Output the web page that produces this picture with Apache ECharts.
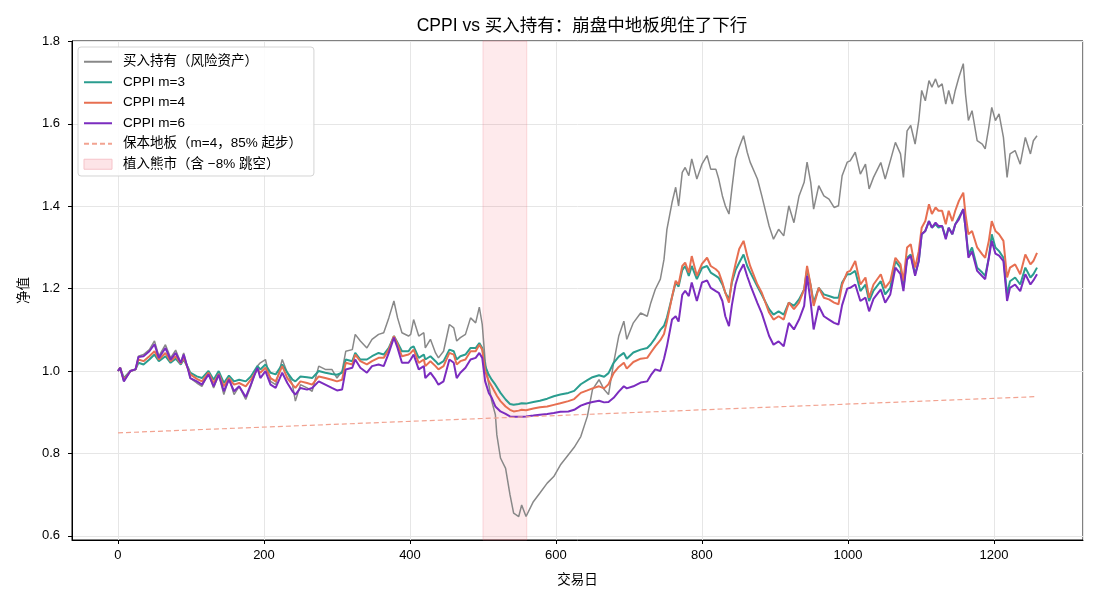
<!DOCTYPE html>
<html>
<head>
<meta charset="utf-8">
<title>CPPI vs 买入持有</title>
<script src="https://cdn.jsdelivr.net/npm/echarts@6/dist/echarts.min.js"></script>
<style>
  html, body { margin: 0; padding: 0; background: #fff; }
  #chart { width: 1100px; height: 605px; }
</style>
</head>
<body>
<div id="chart"></div>
<script>
const days = [
  0, 3, 8, 17, 24, 28, 35, 43, 50, 56, 65, 72, 79, 86, 90, 96, 99, 108, 115, 124, 131, 138, 145, 152, 159, 166, 175, 182, 191,
  195, 202, 209, 216, 225, 232, 239, 243, 250, 259, 266, 275, 284, 293, 300, 307, 312, 321, 325, 332, 341, 348, 357, 364, 371, 378, 380, 383, 389, 398,
  401, 405, 412, 419, 421, 428, 435, 439, 446, 454, 460, 464, 469, 476, 483, 490, 495, 499, 503, 508, 512, 517, 519, 524, 531, 537, 542, 549, 553, 559, 569, 578, 588, 597, 606, 617,
  625,
  634, 643, 650, 659, 666, 672, 679, 686, 693, 697, 706, 716, 725, 730, 736, 743,
  748, 752, 759, 764, 768, 773, 777, 782, 786, 793, 800, 807, 812, 819, 823, 828, 832, 837, 841, 846, 851, 857, 862, 866, 876, 882, 892, 898, 905, 912, 919, 926, 933, 940, 944, 949, 953, 960, 967, 974, 981, 987, 992, 999,
  1003, 1010, 1017, 1024, 1029, 1035, 1045, 1051, 1058, 1065, 1072, 1076, 1081, 1086, 1092, 1097, 1101, 1106, 1111, 1115, 1120, 1124, 1129, 1134, 1138, 1143, 1147, 1152, 1158, 1161, 1165, 1170, 1177, 1184, 1188, 1193, 1197, 1202, 1207, 1213, 1218, 1222, 1229, 1236, 1243, 1250, 1254, 1259
];

const buyHold = [
  1.0, 1.008, 0.975, 1.0, 1.004, 1.036, 1.04, 1.052, 1.073, 1.036, 1.064, 1.032, 1.051, 1.02, 1.044, 1.004, 0.983, 0.971, 0.963, 0.996, 0.959, 0.991, 0.943, 0.983, 0.943, 0.963, 0.931, 0.963, 1.012,
  1.02, 1.028, 0.975, 0.967, 1.028, 0.996, 0.967, 0.927, 0.967, 0.959, 0.951, 1.012, 1.004, 1.004, 0.983, 1.0, 1.048, 1.052, 1.089, 1.073, 1.056, 1.077, 1.089, 1.093, 1.129, 1.17, 1.174, 1.129, 1.093, 1.085,
  1.089, 1.125, 1.085, 1.093, 1.056, 1.077, 1.044, 1.032, 1.048, 1.113, 1.105, 1.073, 1.081, 1.089, 1.129, 1.117, 1.155, 1.113, 1.024, 0.967, 0.927, 0.894, 0.845, 0.789, 0.764, 0.7, 0.655, 0.647, 0.675, 0.647, 0.683, 0.704, 0.728, 0.744, 0.772, 0.797,
  0.815,
  0.841, 0.89, 0.955, 0.979, 0.955, 0.943, 1.02, 1.085, 1.121, 1.077, 1.117, 1.141, 1.133, 1.166, 1.198, 1.223,
  1.271, 1.344, 1.409, 1.446, 1.401, 1.482, 1.494, 1.474, 1.515, 1.466, 1.502, 1.523, 1.49, 1.49, 1.466, 1.425, 1.401, 1.381, 1.442, 1.515, 1.543, 1.571, 1.531, 1.507, 1.466, 1.425, 1.352, 1.32, 1.344, 1.328, 1.401, 1.36, 1.425, 1.458, 1.507, 1.458, 1.393, 1.45, 1.425, 1.417, 1.397, 1.401, 1.474, 1.507,
  1.51, 1.531, 1.478, 1.502, 1.442, 1.47, 1.506, 1.466, 1.51, 1.555, 1.527, 1.47, 1.583, 1.596, 1.551, 1.608, 1.681, 1.656, 1.705, 1.689, 1.709, 1.689, 1.697, 1.648, 1.681, 1.648, 1.681, 1.713, 1.746, 1.673, 1.608, 1.632, 1.559, 1.551, 1.539, 1.592, 1.64, 1.608, 1.624, 1.567, 1.47, 1.527, 1.535, 1.502, 1.567, 1.527, 1.559, 1.571
];

const cppiM3 = [
  1.0, 1.008, 0.983, 1.0, 1.004, 1.02, 1.016, 1.028, 1.04, 1.024, 1.036, 1.02, 1.03, 1.016, 1.028, 1.008, 0.996, 0.987, 0.983, 1.0, 0.979, 1.0, 0.971, 0.989, 0.975, 0.979, 0.975, 0.987, 1.012,
  1.004, 1.016, 0.996, 0.992, 1.016, 0.996, 0.979, 0.975, 0.987, 0.985, 0.983, 1.0, 0.996, 0.993, 0.991, 0.996, 1.028, 1.024, 1.044, 1.028, 1.028, 1.036, 1.044, 1.04, 1.056, 1.085, 1.082, 1.069, 1.048, 1.048,
  1.056, 1.06, 1.032, 1.04, 1.028, 1.036, 1.024, 1.016, 1.024, 1.052, 1.048, 1.028, 1.036, 1.04, 1.056, 1.056, 1.068, 1.056, 1.012, 0.991, 0.979, 0.967, 0.963, 0.947, 0.931, 0.92, 0.918, 0.92, 0.922, 0.921, 0.925, 0.928, 0.933, 0.939, 0.943, 0.947,
  0.952,
  0.968, 0.978, 0.985, 0.99, 0.986, 0.995, 1.02, 1.035, 1.044, 1.03, 1.045, 1.052, 1.056, 1.065, 1.08, 1.1,
  1.11, 1.13, 1.18, 1.215, 1.205, 1.245, 1.255, 1.231, 1.255, 1.223, 1.25, 1.255, 1.239, 1.231, 1.226, 1.21, 1.19, 1.174, 1.215, 1.245, 1.263, 1.283, 1.255, 1.24, 1.205, 1.185, 1.15, 1.137, 1.145, 1.137, 1.166, 1.158, 1.174, 1.198, 1.247, 1.207, 1.166, 1.202, 1.186, 1.182, 1.178, 1.178, 1.215, 1.235,
  1.235, 1.243, 1.194, 1.21, 1.17, 1.195, 1.218, 1.186, 1.202, 1.267, 1.251, 1.202, 1.275, 1.283, 1.235, 1.267, 1.332, 1.34, 1.364, 1.348, 1.356, 1.348, 1.352, 1.324, 1.348, 1.332, 1.356, 1.373, 1.393, 1.348, 1.283, 1.3, 1.251, 1.239, 1.231, 1.275, 1.332, 1.3, 1.291, 1.275, 1.186, 1.218, 1.227, 1.21, 1.251, 1.227, 1.235, 1.251
];

const cppiM4 = [
  1.0, 1.008, 0.979, 1.0, 1.004, 1.028, 1.024, 1.036, 1.048, 1.028, 1.044, 1.024, 1.036, 1.018, 1.032, 1.005, 0.992, 0.981, 0.975, 0.996, 0.971, 0.993, 0.963, 0.983, 0.967, 0.971, 0.963, 0.979, 1.004,
  0.996, 1.008, 0.983, 0.975, 1.012, 0.983, 0.967, 0.959, 0.975, 0.971, 0.967, 0.987, 0.983, 0.979, 0.975, 0.979, 1.02, 1.016, 1.04, 1.024, 1.016, 1.024, 1.032, 1.032, 1.052, 1.085, 1.082, 1.065, 1.036, 1.04,
  1.044, 1.052, 1.02, 1.028, 1.012, 1.024, 1.012, 1.004, 1.012, 1.044, 1.04, 1.016, 1.024, 1.028, 1.048, 1.048, 1.064, 1.052, 1.0, 0.975, 0.963, 0.947, 0.94, 0.927, 0.914, 0.906, 0.902, 0.904, 0.906, 0.905, 0.909, 0.912, 0.914, 0.918, 0.922, 0.927,
  0.932,
  0.947, 0.953, 0.958, 0.963, 0.958, 0.968, 0.995, 1.01, 1.02, 1.006, 1.022, 1.03, 1.032, 1.045, 1.06, 1.075,
  1.09, 1.12, 1.18, 1.219, 1.21, 1.255, 1.263, 1.239, 1.279, 1.231, 1.26, 1.275, 1.255, 1.247, 1.24, 1.215, 1.19, 1.166, 1.22, 1.26, 1.296, 1.316, 1.28, 1.255, 1.21, 1.19, 1.142, 1.125, 1.133, 1.125, 1.166, 1.15, 1.166, 1.198, 1.255, 1.207, 1.158, 1.202, 1.178, 1.174, 1.166, 1.162, 1.21, 1.24,
  1.243, 1.267, 1.21, 1.227, 1.178, 1.21, 1.235, 1.202, 1.218, 1.275, 1.259, 1.218, 1.3, 1.308, 1.251, 1.291, 1.348, 1.364, 1.405, 1.381, 1.397, 1.389, 1.389, 1.356, 1.389, 1.364, 1.389, 1.413, 1.433, 1.381, 1.332, 1.34, 1.3, 1.283, 1.275, 1.316, 1.364, 1.34, 1.332, 1.316, 1.227, 1.251, 1.259, 1.235, 1.283, 1.259, 1.267, 1.287
];

const cppiM6 = [
  1.0, 1.008, 0.975, 1.0, 1.004, 1.034, 1.036, 1.048, 1.065, 1.032, 1.056, 1.028, 1.044, 1.02, 1.04, 1.004, 0.983, 0.975, 0.967, 0.992, 0.963, 0.991, 0.951, 0.979, 0.951, 0.963, 0.937, 0.967, 1.008,
  0.983, 1.0, 0.967, 0.959, 0.996, 0.971, 0.951, 0.943, 0.959, 0.955, 0.959, 0.975, 0.967, 0.959, 0.953, 0.955, 1.004, 1.008, 1.028, 1.008, 0.996, 1.012, 1.016, 1.012, 1.044, 1.081, 1.078, 1.056, 1.02, 1.02,
  1.028, 1.04, 1.004, 1.012, 0.983, 0.996, 0.979, 0.967, 0.975, 1.028, 1.02, 0.983, 0.996, 1.008, 1.028, 1.032, 1.044, 1.032, 0.975, 0.947, 0.935, 0.914, 0.91, 0.902, 0.896, 0.89, 0.889, 0.889, 0.889, 0.89, 0.892, 0.894, 0.896, 0.898, 0.901, 0.902,
  0.906,
  0.916, 0.922, 0.925, 0.928, 0.924, 0.925, 0.935, 0.95, 0.963, 0.958, 0.963, 0.972, 0.975, 0.99, 1.004, 1.0,
  1.03, 1.06, 1.125, 1.133, 1.12, 1.185, 1.195, 1.182, 1.215, 1.17, 1.215, 1.22, 1.202, 1.194, 1.19, 1.17, 1.133, 1.109, 1.16, 1.21, 1.239, 1.259, 1.23, 1.21, 1.165, 1.14, 1.085, 1.064, 1.072, 1.06, 1.117, 1.101, 1.125, 1.158, 1.231, 1.166, 1.101, 1.158, 1.133, 1.125, 1.117, 1.113, 1.16, 1.2,
  1.202, 1.21, 1.17, 1.178, 1.145, 1.175, 1.198, 1.166, 1.186, 1.251, 1.235, 1.194, 1.271, 1.279, 1.231, 1.267, 1.332, 1.34, 1.364, 1.348, 1.36, 1.352, 1.352, 1.32, 1.348, 1.332, 1.356, 1.368, 1.393, 1.348, 1.275, 1.29, 1.243, 1.23, 1.223, 1.275, 1.316, 1.285, 1.28, 1.267, 1.17, 1.202, 1.21, 1.194, 1.235, 1.21, 1.22, 1.235
];

// protection floor (m=4, starts at 85%)
const floorDays = [0, 630, 1259];
const floorValues = [0.85, 0.894, 0.938];

// injected bear market window
const bearWindow = [500, 560];

const names = {
  bh: '买入持有（风险资产）',
  m3: 'CPPI m=3',
  m4: 'CPPI m=4',
  m6: 'CPPI m=6',
  floor: '保本地板（m=4，85% 起步）',
  bear: '植入熊市（含 −8% 跳空）'
};

const pairs = (xs, ys) => xs.map((x, i) => [x, ys[i]]);

const chart = echarts.init(document.getElementById('chart'));

const lineSeries = (name, values, color, width) => ({
  name: name,
  type: 'line',
  data: pairs(days, values),
  showSymbol: false,
  symbol: 'none',
  color: color,
  lineStyle: { color: color, width: width },
  emphasis: { disabled: true }
});

const option = {
  animation: false,
  backgroundColor: '#ffffff',
  textStyle: { fontFamily: "'Liberation Sans', 'Noto Sans CJK SC', sans-serif", color: '#000' },
  title: {
    text: 'CPPI vs 买入持有：崩盘中地板兜住了下行',
    left: 577,
    textAlign: 'center',
    top: 12,
    textStyle: { fontSize: 17.5, fontWeight: 'normal', color: '#000' }
  },
  grid: {
    left: 72, right: 17, top: 41, bottom: 65,
    show: true, borderColor: '#000', borderWidth: 1, backgroundColor: 'transparent'
  },
  legend: {
    orient: 'vertical',
    left: 78,
    top: 47,
    padding: [8, 12, 5, 5],
    itemGap: 7,
    itemWidth: 28,
    itemHeight: 10,
    backgroundColor: 'rgba(255,255,255,0.85)',
    borderColor: '#d4d4d4',
    borderWidth: 1,
    borderRadius: 3,
    itemStyle: { opacity: 0 },
    textStyle: { fontSize: 13.5, color: '#000', padding: [0, 0, 0, 6] },
    data: [
      { name: names.bh },
      { name: names.m3 },
      { name: names.m4 },
      { name: names.m6 },
      { name: names.floor },
      { name: names.bear, icon: 'rect', itemStyle: { opacity: 1, color: '#fde4e7', borderColor: '#f6c3c9', borderWidth: 1 } }
    ]
  },
  xAxis: {
    type: 'value',
    min: -63,
    max: 1322,
    splitNumber: 7,
    name: '交易日',
    nameLocation: 'middle',
    nameGap: 34,
    nameTextStyle: { fontSize: 13.5, color: '#000' },
    axisLine: { onZero: false, lineStyle: { color: '#000', width: 1 } },
    axisTick: { show: true, length: 4, lineStyle: { color: '#000' } },
    axisLabel: {
      color: '#000', fontSize: 13, margin: 9, showMinLabel: false, showMaxLabel: false,
      formatter: v => String(Math.round(v))
    },
    splitLine: { show: true, lineStyle: { color: '#e6e6e6', width: 1 } }
  },
  yAxis: {
    type: 'value',
    min: 0.59,
    max: 1.801,
    splitNumber: 6,
    name: '净值',
    nameLocation: 'middle',
    nameGap: 39,
    nameRotate: 90,
    nameTextStyle: { fontSize: 13.5, color: '#000' },
    axisLine: { show: true, onZero: false, lineStyle: { color: '#000', width: 1 } },
    axisTick: { show: true, length: 4, lineStyle: { color: '#000' } },
    axisLabel: {
      color: '#000', fontSize: 13, margin: 12, showMinLabel: false, showMaxLabel: false,
      formatter: v => v.toFixed(1)
    },
    splitLine: { show: true, lineStyle: { color: '#e6e6e6', width: 1 } }
  },
  series: [
    {
      name: names.bear,
      type: 'line',
      data: [],
      color: '#fde4e7',
      z: 1,
      markArea: {
        silent: true,
        itemStyle: { color: 'rgba(250, 60, 80, 0.11)', borderColor: 'rgba(240, 120, 135, 0.25)', borderWidth: 1 },
        data: [[{ xAxis: bearWindow[0] }, { xAxis: bearWindow[1] }]]
      }
    },
    lineSeries(names.bh, buyHold, '#888888', 1.5),
    lineSeries(names.m3, cppiM3, '#2a9d8f', 2),
    lineSeries(names.m4, cppiM4, '#e76f51', 2),
    lineSeries(names.m6, cppiM6, '#7b2cbf', 2),
    {
      name: names.floor,
      type: 'line',
      data: pairs(floorDays, floorValues),
      showSymbol: false,
      symbol: 'none',
      color: '#f2a391',
      lineStyle: { color: '#f2a391', width: 1.2, type: [5, 3] },
      emphasis: { disabled: true }
    }
  ]
};

chart.setOption(option);
</script>
</body>
</html>
